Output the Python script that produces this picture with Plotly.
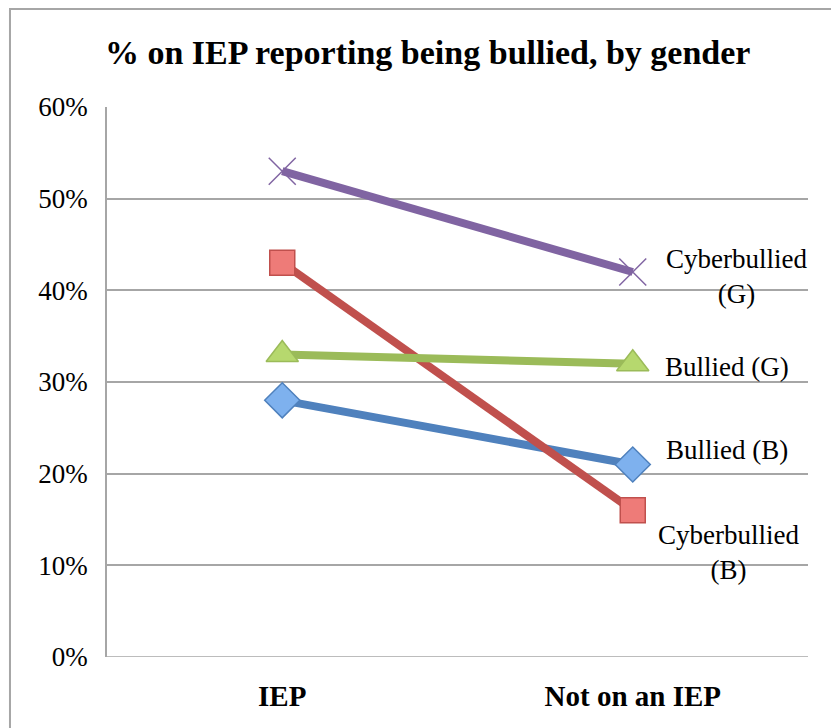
import plotly.graph_objects as go

categories = ["IEP", "Not on an IEP"]
bullied_b = [0.28, 0.21]
cyber_b = [0.43, 0.16]
bullied_g = [0.33, 0.32]
cyber_g = [0.53, 0.42]
y_ticks = [0, 0.1, 0.2, 0.3, 0.4, 0.5, 0.6]
y_labels = ["0%", "10%", "20%", "30%", "40%", "50%", "60%"]

SERIF = "Liberation Serif, DejaVu Serif, serif"

series = [
    ("Bullied (B)", bullied_b, "#4F81BD", dict(symbol="diamond", size=27, color="#7EB1EE", line=dict(color="#4F81BD", width=1.5))),
    ("Cyberbullied (B)", cyber_b, "#C0504D", dict(symbol="square", size=25, color="#EE7B78", line=dict(color="#C0504D", width=1.5))),
    ("Bullied (G)", bullied_g, "#9BBB59", dict(symbol="triangle-up", size=28, color="#B6D86E", line=dict(color="#9BBB59", width=1.5))),
    ("Cyberbullied (G)", cyber_g, "#8064A2", dict(symbol="x-thin", size=27, color="#8064A2", line=dict(color="#8064A2", width=1.5))),
]

fig = go.Figure()
for name, vals, col, mk in series:
    fig.add_trace(go.Scatter(x=categories, y=vals, mode="lines+markers", name=name,
                             line=dict(color=col, width=8), marker=mk, showlegend=False))

label_text = {
    "Bullied (B)": ("Bullied (B)", 94, 15),
    "Cyberbullied (B)": ("Cyberbullied<br>(B)", 96, -42),
    "Bullied (G)": ("Bullied (G)", 94, -3),
    "Cyberbullied (G)": ("Cyberbullied<br>(G)", 104, -4),
}
annotations = []
for name, vals, col, mk in series:
    txt, xs, ys = label_text[name]
    annotations.append(dict(x=categories[-1], y=vals[-1], xref="x", yref="y", text=txt,
                            showarrow=False, xanchor="center", yanchor="middle",
                            xshift=xs, yshift=ys,
                            font=dict(family=SERIF, size=27, color="#000000")))

fig.update_layout(
    width=831, height=720,
    margin=dict(l=99, r=31, t=99, b=71),
    paper_bgcolor="white", plot_bgcolor="white",
    title=dict(text="<b>% on IEP reporting being bullied, by gender</b>", x=0.505, xanchor="center",
               y=0.939, yanchor="middle", font=dict(family=SERIF, size=34, color="#000000")),
    xaxis=dict(type="category", range=[-0.5, 1.5], showgrid=False, showline=False, zeroline=False,
               ticks="", ticklabelstandoff=19, tickfont=dict(family=SERIF, size=29, color="#000000"),
               tickvals=categories, ticktext=["<b>" + c + "</b>" for c in categories]),
    yaxis=dict(range=[0, 0.6], tickvals=y_ticks, ticktext=y_labels, showgrid=True,
               gridcolor="#A6A6A6", gridwidth=1.5, zeroline=False, showline=True,
               linecolor="#A6A6A6", linewidth=1.5, ticks="", ticklabelstandoff=12,
               tickfont=dict(family=SERIF, size=27, color="#000000")),
    annotations=annotations,
    shapes=[dict(type="rect", xref="paper", yref="paper", x0=-0.1384, x1=1.1, y0=1.178, y1=-0.3,
                 line=dict(color="#A6A6A6", width=2), fillcolor="rgba(0,0,0,0)", layer="below"),
            dict(type="line", xref="paper", yref="y", x0=0, x1=1, y0=0, y1=0,
                 line=dict(color="#A6A6A6", width=1.5))],
)

fig.write_html("out.html")
